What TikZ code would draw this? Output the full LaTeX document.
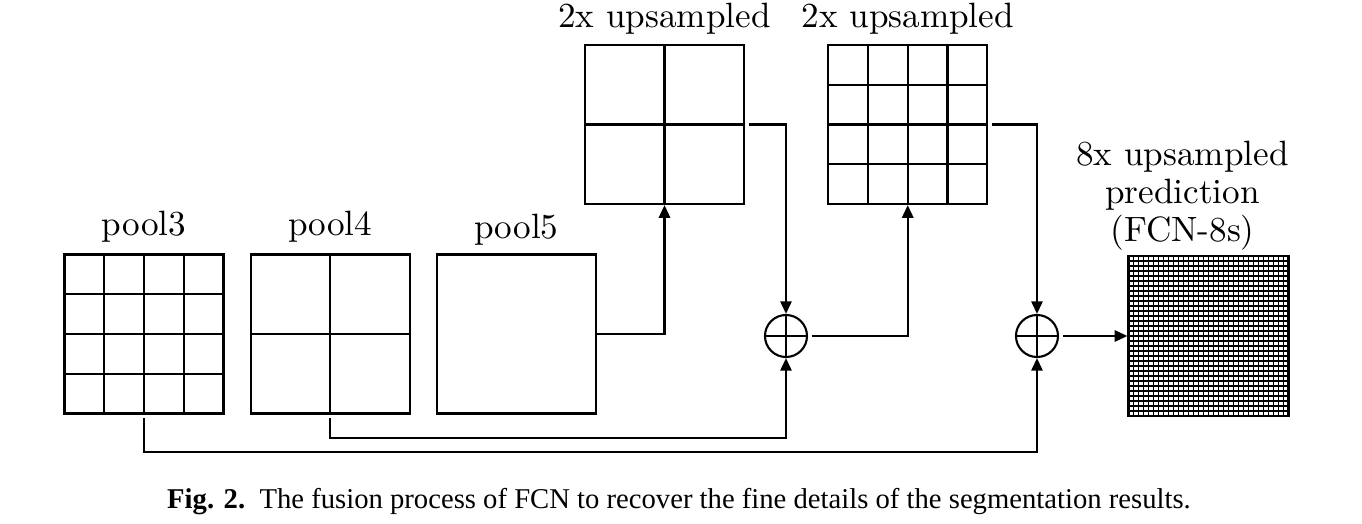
\documentclass[tikz,border=0pt]{standalone}
\usepackage{fontspec}
\newfontfamily\capfont{Liberation Serif}
\usetikzlibrary{positioning,calc,arrows.meta}

\begin{document}
\begin{tikzpicture}[
x=0.01cm, y=-0.01cm,
fmap/.style={draw, line width=0.6pt, minimum size=1.59cm, inner sep=0pt},
cells/.style 2 args={fmap, path picture={
  \foreach \k in {1,...,#1}{
    \draw[line width=#2] ($(path picture bounding box.south west)!\k/#1!(path picture bounding box.south east)$) -- ($(path picture bounding box.north west)!\k/#1!(path picture bounding box.north east)$);
    \draw[line width=#2] ($(path picture bounding box.south west)!\k/#1!(path picture bounding box.north west)$) -- ($(path picture bounding box.south east)!\k/#1!(path picture bounding box.north east)$);
  }}},
sum/.style={draw, circle, line width=0.6pt, minimum size=0.42cm, inner sep=0pt,
  path picture={\draw[line width=0.6pt] (path picture bounding box.north) -- (path picture bounding box.south)
    (path picture bounding box.west) -- (path picture bounding box.east);}},
lbl/.style={inner sep=2pt},
arrow/.style={-{Triangle[length=3.6pt,width=3.2pt]}, line width=0.6pt, shorten <=1pt},
]
\useasboundingbox (0,0) rectangle (1362,524);

% pooling outputs
\node[cells={4}{0.6pt}] (p3) at (144,334) {};
\node[cells={2}{0.6pt}] (p4) [right=0.25cm of p3] {};
\node[fmap] (p5) [right=0.25cm of p4] {};

\node[lbl] (p3lbl) [above=1pt of p3] {pool3};
\node[lbl] (p4lbl) [above=1pt of p4] {pool4};
\node[lbl] (p5lbl) [above=0pt of p5] {pool5};

% upsampled maps
\node[cells={2}{0.6pt}] (up2) at (664.5,124.5) {};
\node[cells={4}{0.6pt}] (up4) [right=0.82cm of up2] {};

\node[lbl] (up2lbl) [above=0.5pt of up2] {2x upsampled};
\node[lbl] (up4lbl) [above=0.5pt of up4] {2x upsampled};

% fusion
\node[sum] (s1) at (786,336) {};
\node[sum] (s2) at (1037,336) {};

% prediction
\node[cells={32}{0.5pt}, minimum size=1.6cm] (pred) at (1208.5,336) {};
\node[lbl, align=center, font=\fontsize{10}{10.8}\selectfont] (predlbl) [above=-1pt of pred, xshift=-0.26cm]
  {8x upsampled\\prediction\\(FCN-8s)};

\draw[arrow, shorten <=0pt] (p5.east) -| (up2.south);
\draw[arrow] (up2.east) -| (s1.north);
\draw[arrow] (s1.east) -| (up4.south);
\draw[arrow] (up4.east) -| (s2.north);
\draw[arrow] (s2.east) -- (pred.west);
\draw[arrow] (p4.south) -- ++(0,23) -| (s1.south);
\draw[arrow] (p3.south) -- ++(0,37) -| (s2.south);

% caption
\node[font=\capfont\fontsize{8.15}{9.5}\selectfont] (cap) at (679,502)
  {\textbf{Fig. 2.}\ \ The fusion process of FCN to recover the fine details of the segmentation results.};

\end{tikzpicture}
\end{document}
